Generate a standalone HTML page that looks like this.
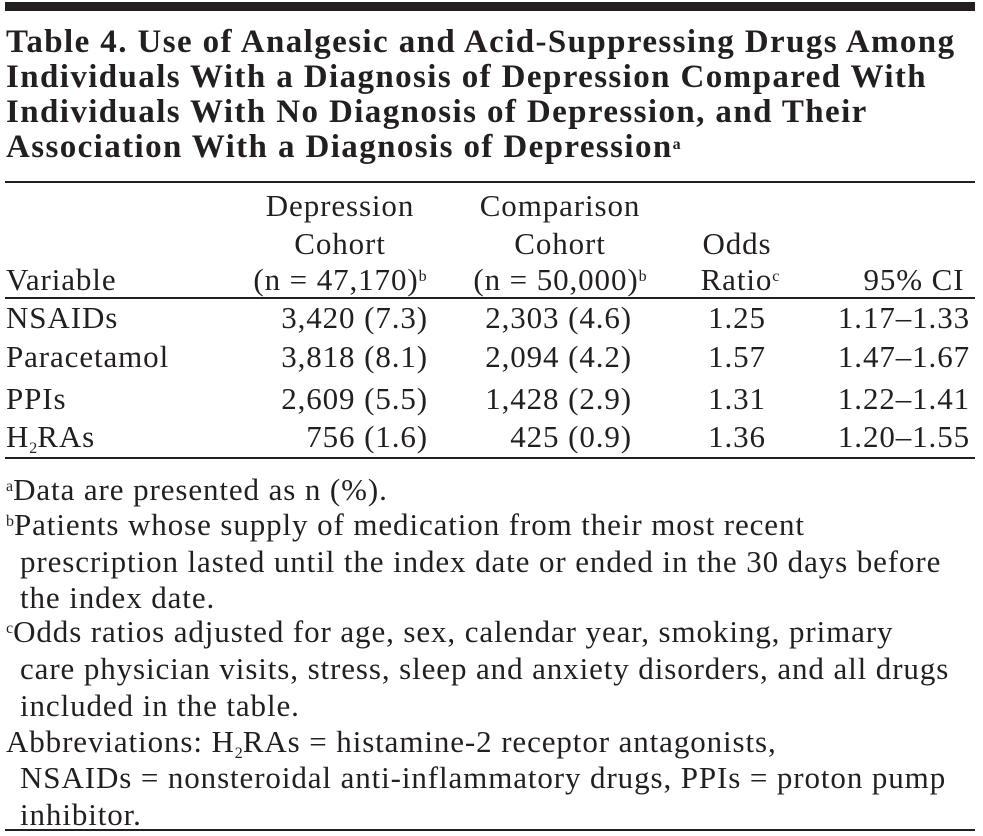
<!DOCTYPE html>
<html><head><meta charset="utf-8"><style>
body{margin:0;width:983px;height:836px;background:#fff;position:relative;overflow:hidden;font-family:"Liberation Serif",serif;color:#231f20}
.t{position:absolute;white-space:nowrap;font-size:31px;line-height:36px;letter-spacing:0.9px}
.h{position:absolute;white-space:nowrap;font-size:33px;line-height:35px;font-weight:bold;left:6px;letter-spacing:1.4px}
.r{position:absolute;left:5px;width:970px;background:#231f20}
.c{text-align:center;transform:translateX(-50%)}
.ra{text-align:right;transform:translateX(-100%)}
sup{font-size:16px;vertical-align:top;position:relative;top:-3px;letter-spacing:0}
sub{font-size:16px;vertical-align:baseline;position:relative;top:6px;letter-spacing:0}
</style></head><body>
<div class="r" style="top:2px;height:9px"></div>
<div class="h" style="top:25px">Table 4. Use of Analgesic and Acid-Suppressing Drugs Among<br>Individuals With a Diagnosis of Depression Compared With<br>Individuals With No Diagnosis of Depression, and Their<br>Association With a Diagnosis of Depression<sup>a</sup></div>
<div class="r" style="top:181px;height:2px"></div>
<div>
<div class="t c" style="left:340px;top:188px">Depression</div>
<div class="t c" style="left:340px;top:226px">Cohort</div>
<div class="t c" style="left:340px;top:262px">(n = 47,170)<sup>b</sup></div>
<div class="t c" style="left:560px;top:188px">Comparison</div>
<div class="t c" style="left:560px;top:226px">Cohort</div>
<div class="t c" style="left:560px;top:262px">(n = 50,000)<sup>b</sup></div>
<div class="t c" style="left:737px;top:226px">Odds</div>
<div class="t c" style="left:740px;top:262px">Ratio<sup>c</sup></div>
<div class="t c" style="left:914px;top:262px">95% CI</div>
<div class="t" style="left:6px;top:262px">Variable</div>
</div>
<div class="r" style="top:297px;height:2px"></div>
<div>
<div class="t" style="left:6px;top:300px">NSAIDs</div>
<div class="t ra" style="left:428px;top:300px">3,420 (7.3)</div>
<div class="t ra" style="left:632px;top:300px">2,303 (4.6)</div>
<div class="t c" style="left:737px;top:300px">1.25</div>
<div class="t ra" style="left:970px;top:300px">1.17–1.33</div>
<div class="t" style="left:6px;top:339px">Paracetamol</div>
<div class="t ra" style="left:428px;top:339px">3,818 (8.1)</div>
<div class="t ra" style="left:632px;top:339px">2,094 (4.2)</div>
<div class="t c" style="left:737px;top:339px">1.57</div>
<div class="t ra" style="left:970px;top:339px">1.47–1.67</div>
<div class="t" style="left:6px;top:381px">PPIs</div>
<div class="t ra" style="left:428px;top:381px">2,609 (5.5)</div>
<div class="t ra" style="left:632px;top:381px">1,428 (2.9)</div>
<div class="t c" style="left:737px;top:381px">1.31</div>
<div class="t ra" style="left:970px;top:381px">1.22–1.41</div>
<div class="t" style="left:6px;top:419px">H<sub>2</sub>RAs</div>
<div class="t ra" style="left:428px;top:419px">756 (1.6)</div>
<div class="t ra" style="left:632px;top:419px">425 (0.9)</div>
<div class="t c" style="left:737px;top:419px">1.36</div>
<div class="t ra" style="left:970px;top:419px">1.20–1.55</div>
</div>
<div class="r" style="top:457px;height:2px"></div>
<div>
<div class="t" style="left:6px;top:472px"><sup>a</sup>Data are presented as n (%).</div>
<div class="t" style="left:6px;top:507px"><sup>b</sup>Patients whose supply of medication from their most recent</div>
<div class="t" style="left:20px;top:544px">prescription lasted until the index date or ended in the 30 days before</div>
<div class="t" style="left:20px;top:580px">the index date.</div>
<div class="t" style="left:6px;top:614px"><sup>c</sup>Odds ratios adjusted for age, sex, calendar year, smoking, primary</div>
<div class="t" style="left:20px;top:651px">care physician visits, stress, sleep and anxiety disorders, and all drugs</div>
<div class="t" style="left:20px;top:688px">included in the table.</div>
<div class="t" style="left:6px;top:724px">Abbreviations: H<sub>2</sub>RAs = histamine-2 receptor antagonists,</div>
<div class="t" style="left:20px;top:760px">NSAIDs = nonsteroidal anti-inflammatory drugs, PPIs = proton pump</div>
<div class="t" style="left:20px;top:797px">inhibitor.</div>
</div>
<div class="r" style="top:829px;height:2px"></div>
</body></html>
